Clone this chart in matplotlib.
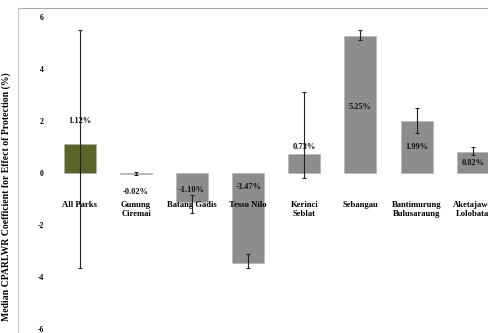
import matplotlib
matplotlib.use("Agg")
import matplotlib.pyplot as plt
from matplotlib.lines import Line2D

categories = ["All Parks", "Gunung\nCiremai", "Batang Gadis", "Tesso Nilo",
              "Kerinci\nSeblat", "Sebangau", "Bantimurung\nBulusaraung", "Aketajawe\nLolobata"]
values = [1.12, -0.02, -1.10, -3.47, 0.73, 5.25, 1.99, 0.82]
err_low = [-3.65, -0.08, -1.54, -3.65, -0.2, 5.1, 1.55, 0.7]
err_high = [5.5, 0.04, -0.85, -3.1, 3.1, 5.5, 2.5, 1.0]
yticks = [6, 4, 2, 0, -2, -4, -6]

# layout: vertical position of value labels (data units)
label_y = [2.0, -0.73, -0.65, -0.54, 1.0, 2.54, 1.0, 0.38]

W, H = 488, 333
fig = plt.figure(figsize=(W / 100, H / 100), dpi=100)
ax = fig.add_axes([48 / W, 0, (W - 48) / W, (H - 8) / H])
ax.spines["bottom"].set_position(("data", 0))

serif = "Liberation Serif"
colors = ["#5a6328"] + ["#8d8d8d"] * (len(values) - 1)
x = list(range(len(values)))
ax.bar(x, values, width=0.57, color=colors, edgecolor="#b0b0b0", linewidth=0.4, zorder=1)
lower = [v - lo for v, lo in zip(values, err_low)]
upper = [hi - v for v, hi in zip(values, err_high)]
ax.errorbar(x, values, yerr=[lower, upper], fmt="none", ecolor="#222222",
            elinewidth=0.8, capsize=1.5, capthick=0.8, zorder=3)
ax.xaxis.set_zorder(2)

for xi, v, ly in zip(x, values, label_y):
    ax.text(xi, ly, f"{v:.2f}%", ha="center", va="center", fontsize=6,
            fontweight="bold", family=serif, color="#111111", zorder=4)

ax.set_xlim(-0.57, 7.273)
ax.set_ylim(-6.154, 6.346)
ax.set_yticks(yticks)
ax.set_yticklabels([str(t) for t in yticks], fontsize=5.5, fontweight="bold", family=serif)
ax.set_xticks(x)
ax.set_xticklabels(categories, fontsize=6.2, fontweight="bold", family=serif, linespacing=1.25)
for s in ax.spines.values():
    s.set_visible(False)
ax.tick_params(axis="x", length=0, pad=20)
ax.tick_params(axis="y", length=0, pad=3)

ax.set_ylabel("Median CPARLWR Coefficient for Effect of Protection (%)", fontsize=7,
              fontweight="bold", family=serif)
ax.yaxis.set_label_coords(-37 / (W - 48), 0.42)

fig.add_artist(Line2D([18 / W, 1], [1 - 8 / H, 1 - 8 / H], transform=fig.transFigure,
                      color="#aaaaaa", linewidth=0.8))
fig.add_artist(Line2D([18 / W, 18 / W], [0, 1 - 8 / H], transform=fig.transFigure,
                      color="#cccccc", linewidth=0.8))

fig.savefig("out.png", dpi=100)
